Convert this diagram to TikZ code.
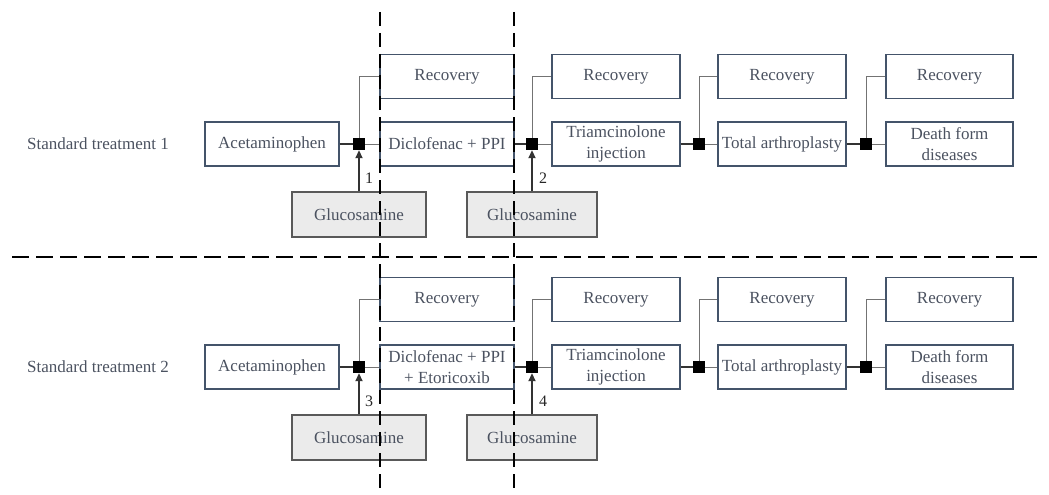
\documentclass[tikz,border=0pt]{standalone}
\usepackage{fontspec}
\setmainfont{Liberation Serif}
\usetikzlibrary{arrows.meta}
\definecolor{boxline}{HTML}{44546A}
\definecolor{txtcol}{HTML}{4B5260}
\definecolor{glufill}{HTML}{EBEBEB}
\tikzset{
  box/.style={draw=boxline, line width=1.3pt, minimum width=134pt, minimum height=44pt,
    text=txtcol, align=center, inner sep=0pt, font=\fontsize{17}{21}\selectfont},
  glubox/.style={box, draw=black!65, fill=glufill},
  jsq/.style={fill=black, minimum size=12pt, inner sep=0pt},
  branch/.style={draw=black!55, line width=1pt},
  feed/.style={draw=black!80, line width=1.8pt},
  armlabel/.style={font=\fontsize{16}{18}\selectfont, text=black!85},
  rowlabel/.style={text=txtcol, font=\fontsize{17}{20}\selectfont},
  divider/.style={line width=2.5pt, dash pattern=on 14pt off 7pt}
}
\begin{document}
\begin{tikzpicture}[x=1pt,y=-1pt]
  \useasboundingbox (0,0) rectangle (1049,495);

  % Row 1
  \node[rowlabel] (std1) at (98,144) {Standard treatment 1};
  \node[box] (acet1) at (272,144) {Acetaminophen};
  \node[box] (rec1a) at (447,76.5) {Recovery};
  \node[box] (dicl1) at (447,144) {Diclofenac + PPI};
  \node[box, minimum width=128pt] (rec1b) at (616,76.5) {Recovery};
  \node[box, minimum width=128pt] (tri1) at (616,144) {Triamcinolone\\injection};
  \node[box, minimum width=128pt] (rec1c) at (782,76.5) {Recovery};
  \node[box, minimum width=128pt] (tot1) at (782,144) {Total arthroplasty};
  \node[box, minimum width=127pt] (rec1d) at (949.5,76.5) {Recovery};
  \node[box, minimum width=127pt] (death1) at (949.5,144) {Death form\\diseases};
  \node[glubox, minimum height=45pt] (glu1a) at (359,214.5) {Glucosamine};
  \node[glubox, minimum height=45pt, minimum width=130pt] (glu1b) at (532,214.5) {Glucosamine};
  \node[jsq] (j1a) at (359,144) {};
  \node[jsq] (j1b) at (532,144) {};
  \node[jsq] (j1c) at (699,144) {};
  \node[jsq] (j1d) at (866,144) {};
  \node[armlabel] (n1) at (369,178) {1};
  \node[armlabel] (n2) at (543,178) {2};

  \draw[feed] (acet1) -- (j1a);
  \draw[branch] (j1a) -- (dicl1);
  \draw[branch] (j1a.north) |- (rec1a.west);
  \draw[feed] (dicl1) -- (j1b);
  \draw[branch] (j1b) -- (tri1);
  \draw[branch] (j1b.north) |- (rec1b.west);
  \draw[feed] (tri1) -- (j1c);
  \draw[branch] (j1c) -- (tot1);
  \draw[branch] (j1c.north) |- (rec1c.west);
  \draw[feed] (tot1) -- (j1d);
  \draw[branch] (j1d) -- (death1);
  \draw[branch] (j1d.north) |- (rec1d.west);
  \draw[feed, -{Triangle[length=8pt,width=7pt]}] (glu1a) -- (j1a);
  \draw[feed, -{Triangle[length=8pt,width=7pt]}] (glu1b) -- (j1b);

  % Row 2
  \node[rowlabel] (std2) at (98,367) {Standard treatment 2};
  \node[box] (acet2) at (272,367) {Acetaminophen};
  \node[box] (rec2a) at (447,299.5) {Recovery};
  \node[box] (dicl2) at (447,367) {Diclofenac + PPI\\+ Etoricoxib};
  \node[box, minimum width=128pt] (rec2b) at (616,299.5) {Recovery};
  \node[box, minimum width=128pt] (tri2) at (616,367) {Triamcinolone\\injection};
  \node[box, minimum width=128pt] (rec2c) at (782,299.5) {Recovery};
  \node[box, minimum width=128pt] (tot2) at (782,367) {Total arthroplasty};
  \node[box, minimum width=127pt] (rec2d) at (949.5,299.5) {Recovery};
  \node[box, minimum width=127pt] (death2) at (949.5,367) {Death form\\diseases};
  \node[glubox, minimum height=45pt] (glu2a) at (359,437.5) {Glucosamine};
  \node[glubox, minimum height=45pt, minimum width=130pt] (glu2b) at (532,437.5) {Glucosamine};
  \node[jsq] (j2a) at (359,367) {};
  \node[jsq] (j2b) at (532,367) {};
  \node[jsq] (j2c) at (699,367) {};
  \node[jsq] (j2d) at (866,367) {};
  \node[armlabel] (n3) at (369,401) {3};
  \node[armlabel] (n4) at (543,401) {4};

  \draw[feed] (acet2) -- (j2a);
  \draw[branch] (j2a) -- (dicl2);
  \draw[branch] (j2a.north) |- (rec2a.west);
  \draw[feed] (dicl2) -- (j2b);
  \draw[branch] (j2b) -- (tri2);
  \draw[branch] (j2b.north) |- (rec2b.west);
  \draw[feed] (tri2) -- (j2c);
  \draw[branch] (j2c) -- (tot2);
  \draw[branch] (j2c.north) |- (rec2c.west);
  \draw[feed] (tot2) -- (j2d);
  \draw[branch] (j2d) -- (death2);
  \draw[branch] (j2d.north) |- (rec2d.west);
  \draw[feed, -{Triangle[length=8pt,width=7pt]}] (glu2a) -- (j2a);
  \draw[feed, -{Triangle[length=8pt,width=7pt]}] (glu2b) -- (j2b);

  % Dividers
  \coordinate (vtop1) at (380,12);
  \coordinate (vbot1) at (380,495);
  \coordinate (vtop2) at (514,12);
  \coordinate (vbot2) at (514,495);
  \coordinate (hleft) at (12,257);
  \coordinate (hright) at (1040,257);
  \draw[divider] (vtop1) -- (vbot1);
  \draw[divider] (vtop2) -- (vbot2);
  \draw[divider, dash pattern=on 17pt off 7pt] (hleft) -- (hright);
\end{tikzpicture}
\end{document}
